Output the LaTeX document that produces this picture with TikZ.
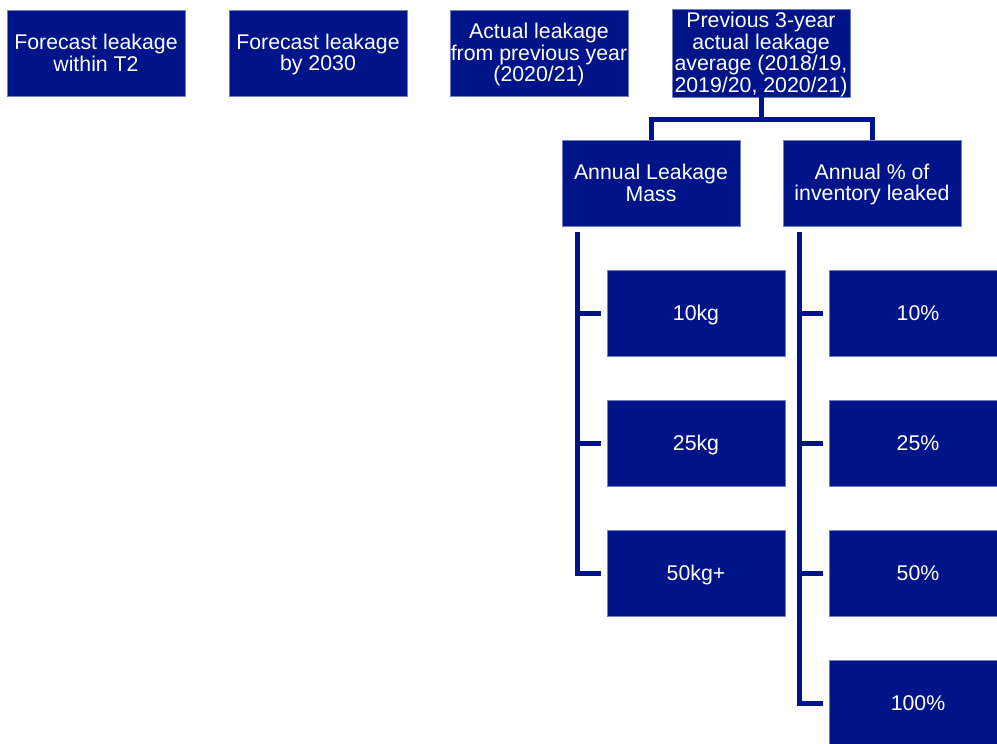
\documentclass[tikz,border=0pt]{standalone}
\usepackage{fontspec}
\setmainfont{Liberation Sans}
\usetikzlibrary{calc}
\definecolor{navy}{RGB}{0,20,137}
\newcommand\lnstrut{\rule[-3.2pt]{0pt}{21.7pt}}
\newcommand\boxfont{\fontsize{21.3}{21.7}\selectfont\lineskiplimit=-100pt\relax}
\begin{document}
\begin{tikzpicture}[x=1pt,y=-1pt,
  box/.style={fill=navy, draw=navy!55!white, line width=0.5pt, minimum width=178pt, minimum height=86pt,
    inner sep=0pt, align=center, text=white, font=\boxfont},
  conn/.style={draw=navy, line width=5pt}]
\useasboundingbox (0,0) rectangle (997,744);
\node[box] (f1) at (96,53) {\lnstrut Forecast leakage\\\lnstrut within T2};
\node[box] (f2) at (318,53) {\lnstrut Forecast leakage\\\lnstrut by 2030};
\node[box] (a1) at (539,53) {\lnstrut Actual leakage\\\lnstrut from previous year\\\lnstrut (2020/21)};
\node[box] (p3) at (761,53) {\lnstrut Previous 3-year\\\lnstrut actual leakage\\\lnstrut average (2018/19,\\\lnstrut 2019/20, 2020/21)};
\node[box] (m) at (651,183) {\lnstrut Annual Leakage\\\lnstrut Mass};
\node[box] (pc) at (872,183) {\lnstrut Annual \% of\\\lnstrut inventory leaked};
\node[box] (k10) at (696,313) {\lnstrut 10kg};
\node[box] (k25) at (696,443) {\lnstrut 25kg};
\node[box] (k50) at (696,573) {\lnstrut 50kg+};
\node[box] (p10) at (918,313) {\lnstrut 10\%};
\node[box] (p25) at (918,443) {\lnstrut 25\%};
\node[box] (p50) at (918,573) {\lnstrut 50\%};
\node[box] (p100) at (918,703) {\lnstrut 100\%};
% top tree
\coordinate (j) at ($(p3.south)+(0,22)$);
\draw[conn] (p3.south) -- (j);
\draw[conn] (m.north) |- (j) -| (pc.north);
% left branch
\coordinate (ls) at ($(m.south)+(-74,6)$);
\draw[conn] (ls) |- ([xshift=-6pt]k50.west);
\draw[conn] (ls |- k10.west) -- ([xshift=-6pt]k10.west);
\draw[conn] (ls |- k25.west) -- ([xshift=-6pt]k25.west);
% right branch
\coordinate (rs) at ($(pc.south)+(-73,6)$);
\draw[conn] (rs) |- ([xshift=-6pt]p100.west);
\draw[conn] (rs |- p10.west) -- ([xshift=-6pt]p10.west);
\draw[conn] (rs |- p25.west) -- ([xshift=-6pt]p25.west);
\draw[conn] (rs |- p50.west) -- ([xshift=-6pt]p50.west);
\end{tikzpicture}
\end{document}
